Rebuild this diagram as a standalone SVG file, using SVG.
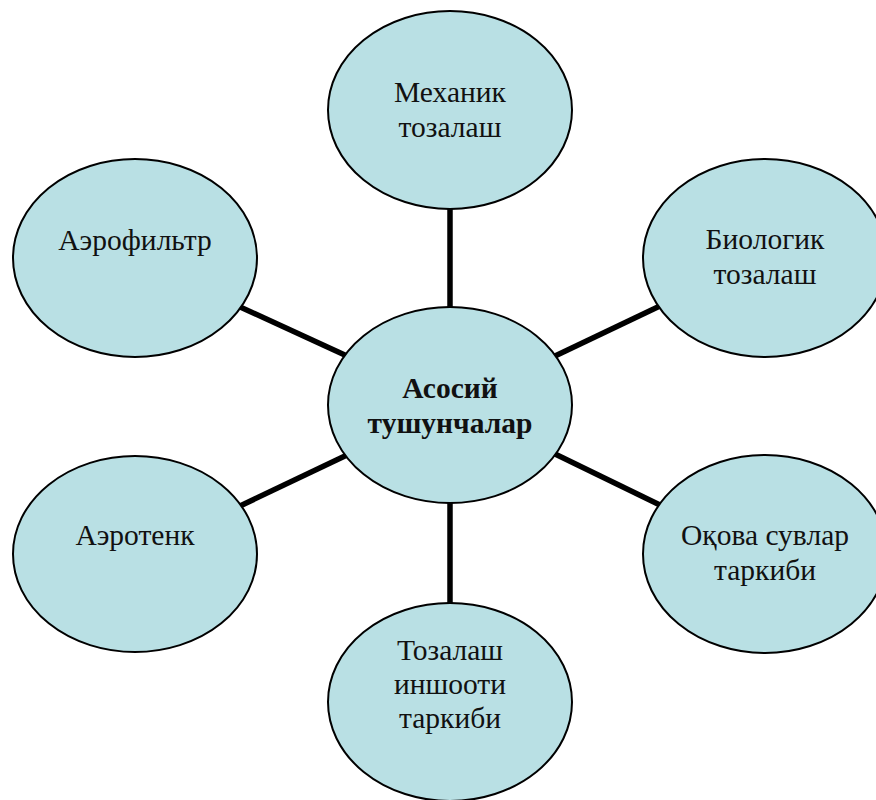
<svg xmlns="http://www.w3.org/2000/svg" width="876" height="800" viewBox="0 0 876 800">
  <style>
    .node { fill: #b9e0e4; stroke: #000; stroke-width: 2; }
    .label { font-family: "Liberation Serif", "Times New Roman", serif; font-size: 29.5px; fill: #111; text-anchor: middle; }
    .bold { font-weight: bold; }
    .link { stroke: #000; stroke-width: 5.5; stroke-linecap: butt; }
  </style>
  <rect width="876" height="800" fill="#fff"/>

  <!-- spokes from the hub to each topic -->
  <g id="connectors">
    <line class="link" x1="450" y1="205" x2="450" y2="310"/>
    <line class="link" x1="555" y1="356" x2="662" y2="305"/>
    <line class="link" x1="238" y1="306" x2="347" y2="356"/>
    <line class="link" x1="240" y1="506" x2="347" y2="455"/>
    <line class="link" x1="553" y1="453" x2="662" y2="506"/>
    <line class="link" x1="450" y1="500" x2="450" y2="606"/>
  </g>

  <g id="hub">
    <ellipse class="node" cx="450" cy="405" rx="122" ry="98"/>
    <text class="label bold" x="450" y="398">Асосий</text>
    <text class="label bold" x="450" y="433">тушунчалар</text>
  </g>

  <g id="mechanical">
    <ellipse class="node" cx="450" cy="110" rx="122" ry="99"/>
    <text class="label" x="450" y="102">Механик</text>
    <text class="label" x="450" y="137">тозалаш</text>
  </g>

  <g id="biological">
    <ellipse class="node" cx="765" cy="258" rx="122" ry="99"/>
    <text class="label" x="765" y="249">Биологик</text>
    <text class="label" x="765" y="284">тозалаш</text>
  </g>

  <g id="aerofilter">
    <ellipse class="node" cx="135" cy="258" rx="122" ry="99"/>
    <text class="label" x="135" y="250">Аэрофильтр</text>
  </g>

  <g id="aerotank">
    <ellipse class="node" cx="135" cy="554" rx="122" ry="98"/>
    <text class="label" x="135" y="545">Аэротенк</text>
  </g>

  <g id="wastewater">
    <ellipse class="node" cx="765" cy="554" rx="122" ry="99"/>
    <text class="label" x="765" y="545">Оқова сувлар</text>
    <text class="label" x="765" y="580">таркиби</text>
  </g>

  <g id="facility">
    <ellipse class="node" cx="450" cy="702" rx="122" ry="99"/>
    <text class="label" x="450" y="660">Тозалаш</text>
    <text class="label" x="450" y="694">иншооти</text>
    <text class="label" x="450" y="728">таркиби</text>
  </g>
</svg>
